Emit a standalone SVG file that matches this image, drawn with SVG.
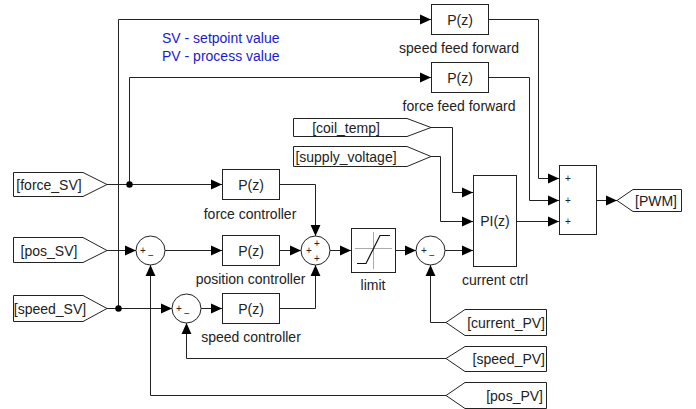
<svg xmlns="http://www.w3.org/2000/svg" width="696" height="409" viewBox="0 0 696 409">
<style>
.blk{fill:#fff;stroke:#222;stroke-width:1}
.tag{fill:#fff;stroke:#222;stroke-width:1}
.ln{fill:none;stroke:#222;stroke-width:1}
.t{font-family:"Liberation Sans",Arial,sans-serif;font-size:14px;fill:#222}
.c{text-anchor:middle}
.s{font-family:"Liberation Sans",Arial,sans-serif;font-size:10px;fill:#222;text-anchor:middle}
.note{font-family:"Liberation Sans",Arial,sans-serif;font-size:14px;fill:#1a1ad0}
</style>
<defs>
<marker id="ar" markerUnits="userSpaceOnUse" markerWidth="11" markerHeight="11" refX="10" refY="5" orient="auto" viewBox="0 0 10 10">
<path d="M0,0.5 L10,5 L0,9.5 z" fill="#000"/>
</marker>
</defs>
<rect width="696" height="409" fill="#fff"/>

<g id="note">
<text class="note" x="162" y="43">SV - setpoint value</text>
<text class="note" x="162" y="61">PV - process value</text>
</g>

<g id="connectors">
<path class="ln" d="M107,308.5 H172" marker-end="url(#ar)"/>
<path class="ln" d="M118.5,308.5 V19.5 H431" marker-end="url(#ar)"/>
<path class="ln" d="M107,184.5 H222" marker-end="url(#ar)"/>
<path class="ln" d="M129.5,184.5 V77.5 H431" marker-end="url(#ar)"/>
<path class="ln" d="M107,250.5 H136" marker-end="url(#ar)"/>
<path class="ln" d="M165,250.5 H222" marker-end="url(#ar)"/>
<path class="ln" d="M280,250.5 H301" marker-end="url(#ar)"/>
<path class="ln" d="M280,184.5 H315.5 V236" marker-end="url(#ar)"/>
<path class="ln" d="M280,308.5 H315.5 V265" marker-end="url(#ar)"/>
<path class="ln" d="M201,308.5 H222" marker-end="url(#ar)"/>
<path class="ln" d="M330,250.5 H351" marker-end="url(#ar)"/>
<path class="ln" d="M396,250.5 H416" marker-end="url(#ar)"/>
<path class="ln" d="M445,250.5 H473" marker-end="url(#ar)"/>
<path class="ln" d="M446,322.5 H430.5 V265" marker-end="url(#ar)"/>
<path class="ln" d="M446,358.5 H186.5 V323" marker-end="url(#ar)"/>
<path class="ln" d="M446,395.5 H150.5 V265" marker-end="url(#ar)"/>
<path class="ln" d="M431,127.5 H452.5 V192.5 H473" marker-end="url(#ar)"/>
<path class="ln" d="M431,156.5 H440.5 V221.5 H473" marker-end="url(#ar)"/>
<path class="ln" d="M517,221.5 H559" marker-end="url(#ar)"/>
<path class="ln" d="M489,19.5 H538.5 V178.5 H559" marker-end="url(#ar)"/>
<path class="ln" d="M489,77.5 H529.5 V200.5 H559" marker-end="url(#ar)"/>
<path class="ln" d="M597,200.5 H617" marker-end="url(#ar)"/>
<circle cx="118.5" cy="308.5" r="3.2" fill="#000"/>
<circle cx="129.5" cy="184.5" r="3.2" fill="#000"/>
</g>

<g id="force_SV">
<polygon class="tag" points="13.5,172.5 83,172.5 107,184.5 83,196.5 13.5,196.5"/>
<text class="t c" x="49" y="189.5">[force_SV]</text>
</g>
<g id="pos_SV">
<polygon class="tag" points="13.5,237.5 83,237.5 107,250.5 83,262.5 13.5,262.5"/>
<text class="t c" x="49" y="255.5">[pos_SV]</text>
</g>
<g id="speed_SV">
<polygon class="tag" points="13.5,295.5 83,295.5 107,308.5 83,321.5 13.5,321.5"/>
<text class="t c" x="50" y="313.5">[speed_SV]</text>
</g>
<g id="coil_temp">
<polygon class="tag" points="293.5,118.5 407,118.5 431,127.5 407,136.5 293.5,136.5"/>
<text class="t c" x="346" y="132.5">[coil_temp]</text>
</g>
<g id="supply_voltage">
<polygon class="tag" points="293.5,146.5 407,146.5 431,156.5 407,166.5 293.5,166.5"/>
<text class="t c" x="346" y="161.5">[supply_voltage]</text>
</g>
<g id="PWM">
<polygon class="tag" points="617,200.5 633,189.5 681.5,189.5 681.5,211.5 633,211.5"/>
<text class="t c" x="656" y="205.5">[PWM]</text>
</g>
<g id="current_PV">
<polygon class="tag" points="446,322.5 465,309.5 546.5,309.5 546.5,335.5 465,335.5"/>
<text class="t" x="545" y="327.5" text-anchor="end">[current_PV]</text>
</g>
<g id="speed_PV">
<polygon class="tag" points="446,358.5 465,346.5 546.5,346.5 546.5,371.5 465,371.5"/>
<text class="t" x="545" y="363.5" text-anchor="end">[speed_PV]</text>
</g>
<g id="pos_PV">
<polygon class="tag" points="446,395.5 465,382.5 546.5,382.5 546.5,408.5 465,408.5"/>
<text class="t" x="543" y="400.5" text-anchor="end">[pos_PV]</text>
</g>

<g id="speed_ff">
<rect class="blk" x="431.5" y="4.5" width="57" height="30"/>
<text class="t c" x="460" y="24.5">P(z)</text>
<text class="t c" x="459" y="53">speed feed forward</text>
</g>
<g id="force_ff">
<rect class="blk" x="431.5" y="62.5" width="57" height="30"/>
<text class="t c" x="460" y="82.5">P(z)</text>
<text class="t c" x="459" y="111">force feed forward</text>
</g>
<g id="force_ctrl">
<rect class="blk" x="222.5" y="169.5" width="57" height="30"/>
<text class="t c" x="251" y="189.5">P(z)</text>
<text class="t c" x="250" y="219">force controller</text>
</g>
<g id="pos_ctrl">
<rect class="blk" x="222.5" y="235.5" width="57" height="30"/>
<text class="t c" x="251" y="255.5">P(z)</text>
<text class="t c" x="250.5" y="284">position controller</text>
</g>
<g id="speed_ctrl">
<rect class="blk" x="222.5" y="293.5" width="57" height="30"/>
<text class="t c" x="251" y="313.5">P(z)</text>
<text class="t c" x="251" y="342">speed controller</text>
</g>
<g id="pos_sum">
<circle class="blk" cx="150.5" cy="250.5" r="14.5"/>
<text class="s" x="143" y="254">+</text>
<text class="s" x="151" y="259">−</text>
</g>
<g id="speed_sum">
<circle class="blk" cx="186.5" cy="308.5" r="14.5"/>
<text class="s" x="179" y="312">+</text>
<text class="s" x="187" y="317">−</text>
</g>
<g id="ctrl_sum">
<circle class="blk" cx="315.5" cy="250.5" r="14.5"/>
<text class="s" x="317" y="247">+</text>
<text class="s" x="309" y="254">+</text>
<text class="s" x="317" y="262">+</text>
</g>
<g id="limit">
<rect class="blk" x="351.5" y="228.5" width="44" height="44"/>
<path d="M355,248.5 H392 M373.5,232 V269" stroke="#aaa" stroke-width="1" fill="none"/>
<path d="M357,263.5 H366 L380,235.5 H390" stroke="#111" stroke-width="1.2" fill="none"/>
<text class="t c" x="373" y="290">limit</text>
</g>
<g id="current_sum">
<circle class="blk" cx="430.5" cy="250.5" r="14.5"/>
<text class="s" x="424" y="254">+</text>
<text class="s" x="432" y="259">−</text>
</g>
<g id="current_ctrl">
<rect class="blk" x="473.5" y="175.5" width="43" height="91"/>
<text class="t c" x="495" y="226">PI(z)</text>
<text class="t c" x="495" y="285">current ctrl</text>
</g>
<g id="pwm_sum">
<rect class="blk" x="559.5" y="165.5" width="37" height="69"/>
<text class="s" x="568" y="182">+</text>
<text class="s" x="568" y="204">+</text>
<text class="s" x="568" y="225">+</text>
</g>
</svg>
